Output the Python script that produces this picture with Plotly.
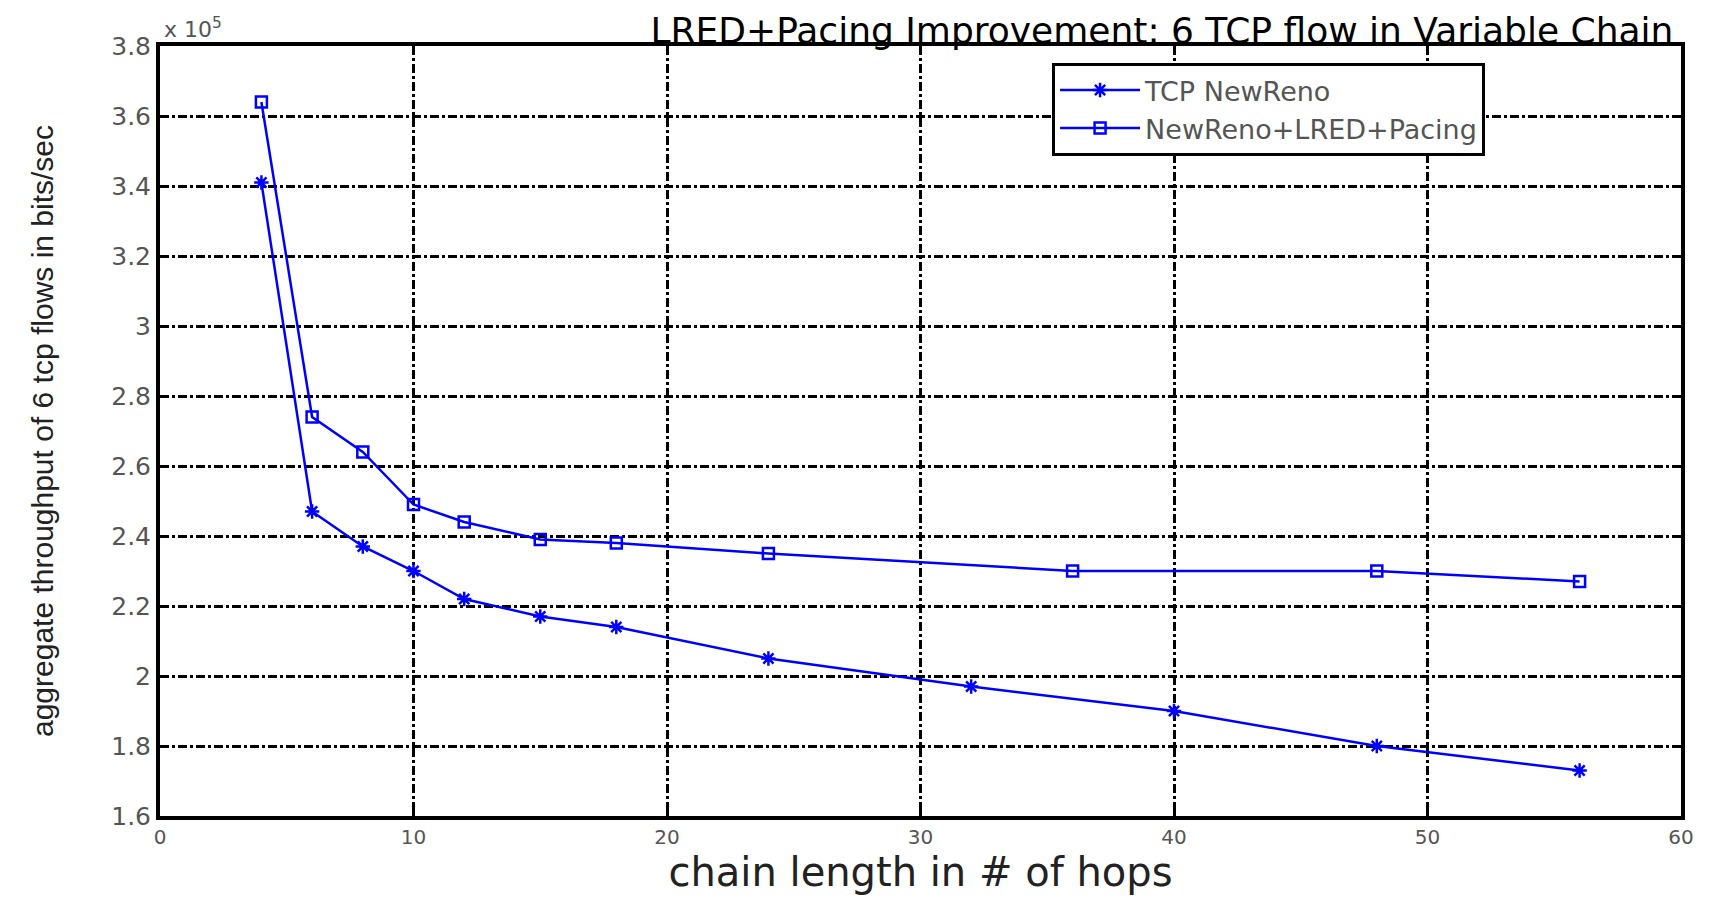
import plotly.graph_objects as go

# chain length (hops)
x_newreno = [4, 6, 8, 10, 12, 15, 18, 24, 32, 40, 48, 56]
y_newreno = [3.41, 2.47, 2.37, 2.30, 2.22, 2.17, 2.14, 2.05, 1.97, 1.90, 1.80, 1.73]  # x 1e5 bits/sec

x_lred = [4, 6, 8, 10, 12, 15, 18, 24, 36, 48, 56]
y_lred = [3.64, 2.74, 2.64, 2.49, 2.44, 2.39, 2.38, 2.35, 2.30, 2.30, 2.27]  # x 1e5 bits/sec

x_ticks = [0, 10, 20, 30, 40, 50, 60]
y_ticks = [1.6, 1.8, 2.0, 2.2, 2.4, 2.6, 2.8, 3.0, 3.2, 3.4, 3.6, 3.8]
y_ticktext = ["1.6", "1.8", "2", "2.2", "2.4", "2.6", "2.8", "3", "3.2", "3.4", "3.6", "3.8"]

BLUE = "#0000FF"
FONT = "DejaVu Sans"

fig = go.Figure()
fig.add_trace(go.Scatter(
    x=x_newreno, y=y_newreno, mode="lines+markers", name="TCP NewReno",
    line=dict(color=BLUE, width=2.5),
    marker=dict(symbol="asterisk-open", size=12, color=BLUE, line=dict(color=BLUE, width=2.5)),
))
fig.add_trace(go.Scatter(
    x=x_lred, y=y_lred, mode="lines+markers", name="NewReno+LRED+Pacing",
    line=dict(color=BLUE, width=2.5),
    marker=dict(symbol="square-open", size=11, color=BLUE, line=dict(color=BLUE, width=2.5)),
))

axis_common = dict(
    showline=True, linecolor="black", linewidth=4, mirror="allticks",
    ticks="inside", ticklen=9, tickwidth=3, tickcolor="black",
    showgrid=True, gridcolor="black", gridwidth=2.5, griddash="dashdot",
    zeroline=False, automargin=False,
)

fig.update_layout(
    width=1707, height=893, autosize=False,
    paper_bgcolor="white", plot_bgcolor="white",
    margin=dict(l=152, r=34, t=38, b=85),
    title=dict(
        text="LRED+Pacing Improvement: 6 TCP flow in Variable Chain",
        x=0.995, xanchor="right", xref="paper", y=0.9885, yanchor="top",
        font=dict(family="DejaVu Sans", size=36, color="black"),
    ),
    xaxis=dict(
        range=[0, 60], tickvals=x_ticks,
        tickfont=dict(family=FONT, size=20, color="#555"),
        title=dict(text="chain length in # of hops", standoff=10,
                   font=dict(family="DejaVu Sans", size=40, color="#222")),
        **axis_common,
    ),
    yaxis=dict(
        range=[1.6, 3.8], tickvals=y_ticks, ticktext=y_ticktext,
        tickfont=dict(family=FONT, size=25, color="#555"),
        title=dict(text="aggregate throughput of 6 tcp flows in bits/sec", standoff=50,
                   font=dict(family="Liberation Sans", size=30, color="#222")),
        **axis_common,
    ),
    legend=dict(
        x=0.5865, y=0.978, xanchor="left", yanchor="top",
        bgcolor="white", bordercolor="black", borderwidth=3,
        font=dict(family=FONT, size=27, color="#555"),
        tracegroupgap=0, itemwidth=80,
    ),
    showlegend=True,
)

fig.add_annotation(
    text="x 10<sup>5</sup>", xref="paper", yref="paper", x=0.0, y=1.0,
    xanchor="left", yanchor="bottom", showarrow=False,
    font=dict(family=FONT, size=22, color="#555"), yshift=2, xshift=2,
)

fig.write_html("out.html")
